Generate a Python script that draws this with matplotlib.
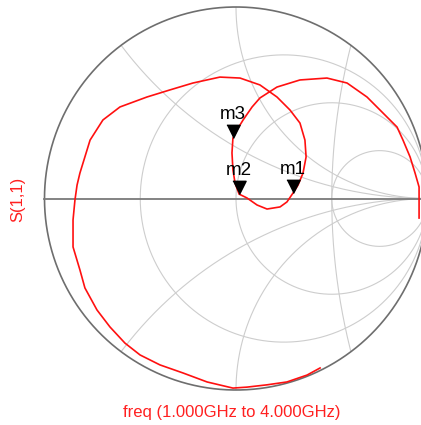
import numpy as np
import matplotlib
matplotlib.use("Agg")
import matplotlib.pyplot as plt

# ---- data (reflection coefficient S(1,1)) ----
gamma_re = [0.439, 0.371, 0.266, 0.162, 0.057, -0.016, -0.151, -0.277, -0.397, -0.501,
            -0.580, -0.658, -0.726, -0.789, -0.815, -0.851, -0.851, -0.841, -0.830, -0.815,
            -0.762, -0.695, -0.606, -0.465, -0.345, -0.225, -0.084, 0.021, 0.125, 0.214,
            0.282, 0.334, 0.360, 0.366, 0.350, 0.324, 0.298, 0.266, 0.230, 0.162,
            0.110, 0.057, 0.016, -0.005, -0.016, -0.021, -0.016, 0.005, 0.037, 0.084,
            0.125, 0.214, 0.334, 0.475, 0.580, 0.684, 0.768, 0.841, 0.872, 0.909,
            0.935, 0.956, 0.956, 0.956]
gamma_im = [-0.885, -0.922, -0.958, -0.973, -0.985, -0.990, -0.958, -0.911, -0.869, -0.817,
            -0.755, -0.671, -0.582, -0.467, -0.373, -0.253, -0.112, -0.008, 0.070, 0.133,
            0.305, 0.410, 0.478, 0.530, 0.567, 0.603, 0.634, 0.629, 0.593, 0.530,
            0.462, 0.394, 0.305, 0.217, 0.133, 0.070, 0.029, -0.018, -0.044, -0.055,
            -0.034, 0.003, 0.023, 0.081, 0.149, 0.238, 0.316, 0.358, 0.410, 0.478,
            0.525, 0.582, 0.619, 0.629, 0.603, 0.530, 0.446, 0.373, 0.305, 0.217,
            0.133, 0.060, -0.008, -0.102]
marker_labels = ["m1", "m2", "m3"]
marker_index = [36, 42, 46]
r_circles = [1 / 3, 1, 3]
x_arcs = [0.5, 1]
trace_label = "S(1,1)"
freq_label = "freq (1.000GHz to 4.000GHz)"

# ---- layout ----
W, H = 421, 425
cx, cy, R = 236, 198.5, 191.5
fig = plt.figure(figsize=(W / 100, H / 100), dpi=100)
ax = fig.add_axes([0, 0, 1, 1])
ax.set_xlim(-cx / R, (W - cx) / R)
ax.set_ylim(-(H - cy) / R, cy / R)
ax.axis("off")

grid_col = "#cdcdcd"
t = np.linspace(0, 2 * np.pi, 2000)


def draw_inside(xs, ys, **kw):
    xs = np.asarray(xs, float)
    ys = np.asarray(ys, float)
    m = xs ** 2 + ys ** 2 <= 1.0005
    xs = np.where(m, xs, np.nan)
    ys = np.where(m, ys, np.nan)
    ax.plot(xs, ys, **kw)


# resistance circles
for r in r_circles:
    c, rad = r / (1 + r), 1 / (1 + r)
    draw_inside(c + rad * np.cos(t), rad * np.sin(t), color=grid_col, lw=0.8, zorder=1)
# reactance arcs
for x in x_arcs:
    for s in (1, -1):
        c, rad = s / x, 1 / x
        draw_inside(1 + rad * np.cos(t), c + rad * np.sin(t), color=grid_col, lw=0.8, zorder=1)
# extra arc through the x=+/-2 end points of the rim
ec, er = 3.75, 3.25
draw_inside(ec + er * np.cos(t), er * np.sin(t), color=grid_col, lw=0.8, zorder=1)

# outer circle and real axis
ax.plot(np.cos(t), np.sin(t), color="#6e6e6e", lw=1.2, zorder=2)
ax.plot([-1, 1], [0, 0], color="#7a7a7a", lw=1.3, zorder=2)

# trace
ax.plot(gamma_re, gamma_im, color="#ff1010", lw=1.2, zorder=3)

# markers
tri = [(-0.5, 1.0), (0.5, 1.0), (0.0, 0.0)]
for lab, i in zip(marker_labels, marker_index):
    ax.plot(gamma_re[i], gamma_im[i], marker=tri, markersize=19, color="black",
            linestyle="none", zorder=4)
    ax.annotate(lab, (gamma_re[i], gamma_im[i]), xytext=(0, 11), textcoords="offset points",
                ha="center", va="bottom", fontsize=13.5, family="Liberation Sans", zorder=5)

fig.text(18 / W, 1 - 199 / H, trace_label, rotation=90, color="#ff2020", fontsize=12,
         family="Liberation Sans", ha="center", va="center")
fig.text(232 / W, 1 - 413 / H, freq_label, color="#ff2020", fontsize=12,
         family="Liberation Sans", ha="center", va="center")

fig.savefig("out.png", dpi=100)
